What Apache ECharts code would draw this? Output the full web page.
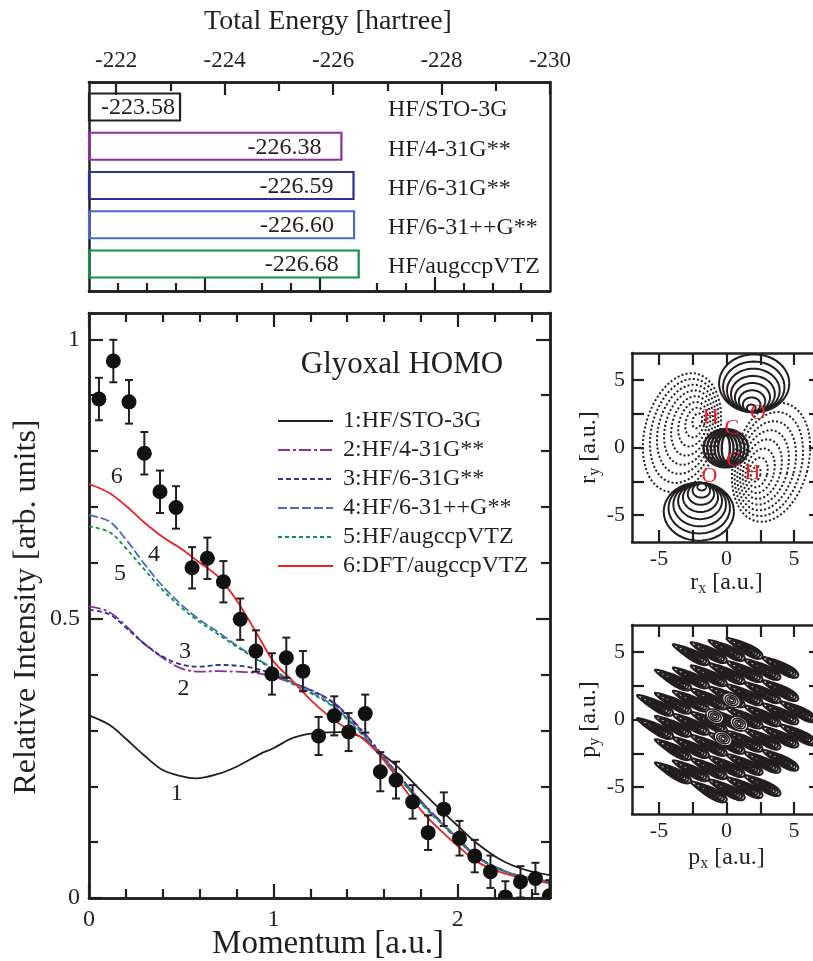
<!DOCTYPE html>
<html><head><meta charset="utf-8">
<script src="https://cdn.jsdelivr.net/npm/echarts@6/dist/echarts.min.js"></script>
<style>html,body{margin:0;padding:0;background:#fff}#c{width:813px;height:961px}</style>
</head><body><div id="c"></div>
<script>
// ================= DATA =================
// Top panel: total energies
const methods = ['HF/STO-3G', 'HF/4-31G**', 'HF/6-31G**', 'HF/6-31++G**', 'HF/augccpVTZ'];
const totalEnergy = [-223.58, -226.38, -226.59, -226.60, -226.68];
const energyTickLabels = [-222, -224, -226, -228, -230];
const energyTopMinor = [-223, -225, -227, -229];
const barAxisMajor = [-224, -226, -228];
const barAxisMinor = [-222.5, -223, -223.5, -225, -225.5, -227, -227.5, -228.5, -229, -229.5];
const barBase = -222;

// Main panel: momentum profiles
const curveNames = ['1:HF/STO-3G', '2:HF/4-31G**', '3:HF/6-31G**', '4:HF/6-31++G**', '5:HF/augccpVTZ', '6:DFT/augccpVTZ'];
const sto3g = [[0,0.327],[0.11,0.310],[0.2,0.285],[0.3,0.255],[0.4,0.229],[0.5,0.218],[0.58,0.214],[0.7,0.222],[0.8,0.235],[0.93,0.258],[1.0,0.268],[1.11,0.287],[1.25,0.296],[1.36,0.297],[1.47,0.289],[1.56,0.265],[1.67,0.236],[1.78,0.199],[1.89,0.163],[2.0,0.129],[2.1,0.099],[2.23,0.069],[2.36,0.051],[2.5,0.041]];
const b431 = [[0,0.522],[0.11,0.512],[0.2,0.487],[0.3,0.455],[0.4,0.430],[0.5,0.411],[0.6,0.405],[0.7,0.406],[0.8,0.405],[0.9,0.403],[1.0,0.396],[1.1,0.385],[1.2,0.373],[1.3,0.356],[1.38,0.335],[1.47,0.304],[1.56,0.269],[1.65,0.232],[1.74,0.196],[1.83,0.163],[1.92,0.133],[2.01,0.103],[2.1,0.076],[2.2,0.056],[2.32,0.041],[2.5,0.029]];
const b631 = [[0,0.516],[0.11,0.508],[0.2,0.484],[0.3,0.455],[0.4,0.432],[0.5,0.418],[0.6,0.414],[0.7,0.417],[0.8,0.416],[0.9,0.411],[1.0,0.400],[1.1,0.386],[1.2,0.372],[1.3,0.355],[1.38,0.333],[1.47,0.302],[1.56,0.267],[1.65,0.231],[1.74,0.195],[1.83,0.162],[1.92,0.132],[2.01,0.102],[2.1,0.075],[2.2,0.056],[2.32,0.041],[2.5,0.029]];
const b631pp = [[0,0.685],[0.11,0.674],[0.2,0.642],[0.3,0.598],[0.4,0.558],[0.5,0.525],[0.6,0.498],[0.7,0.476],[0.8,0.452],[0.9,0.431],[1.0,0.410],[1.1,0.386],[1.2,0.369],[1.3,0.350],[1.38,0.328],[1.47,0.298],[1.56,0.265],[1.65,0.229],[1.74,0.193],[1.83,0.160],[1.92,0.131],[2.01,0.101],[2.1,0.074],[2.2,0.055],[2.32,0.041],[2.5,0.029]];
const hfAug = [[0,0.665],[0.11,0.655],[0.2,0.626],[0.3,0.588],[0.4,0.551],[0.5,0.520],[0.6,0.494],[0.7,0.472],[0.8,0.450],[0.9,0.429],[1.0,0.408],[1.1,0.384],[1.2,0.367],[1.3,0.348],[1.38,0.326],[1.47,0.296],[1.56,0.263],[1.65,0.228],[1.74,0.192],[1.83,0.159],[1.92,0.130],[2.01,0.100],[2.1,0.074],[2.2,0.055],[2.32,0.040],[2.5,0.028]];
const dftAug = [[0,0.741],[0.11,0.725],[0.2,0.702],[0.3,0.672],[0.4,0.646],[0.5,0.625],[0.6,0.600],[0.7,0.575],[0.8,0.533],[0.9,0.479],[1.0,0.424],[1.1,0.390],[1.2,0.355],[1.3,0.326],[1.38,0.307],[1.47,0.289],[1.56,0.262],[1.65,0.224],[1.74,0.182],[1.83,0.146],[1.92,0.117],[2.01,0.090],[2.1,0.066],[2.2,0.050],[2.32,0.038],[2.5,0.026]];
const expP = [0.054,0.132,0.217,0.300,0.385,0.472,0.559,0.642,0.729,0.820,0.905,0.992,1.070,1.160,1.245,1.330,1.408,1.498,1.580,1.665,1.755,1.839,1.924,2.009,2.092,2.177,2.258,2.340,2.421,2.497];
const expI = [0.893,0.961,0.888,0.796,0.727,0.699,0.591,0.608,0.566,0.499,0.442,0.401,0.430,0.406,0.290,0.326,0.297,0.330,0.226,0.211,0.172,0.117,0.159,0.107,0.075,0.047,0.002,0.029,0.035,0.004];
const expErr = [0.038,0.038,0.039,0.038,0.038,0.038,0.037,0.037,0.037,0.037,0.037,0.037,0.036,0.036,0.034,0.035,0.034,0.034,0.035,0.033,0.030,0.031,0.030,0.031,0.029,0.029,0.028,0.028,0.028,0.028];
const curveTagText = ['6', '4', '5', '3', '2', '1'];
const curveTagX = [0.15, 0.353, 0.168, 0.521, 0.512, 0.476];
const curveTagY = [0.754, 0.614, 0.581, 0.440, 0.375, 0.187];
const momTicksMajor = [0, 1, 2];
const momTicksMinor = [0.2, 0.4, 0.6, 0.8, 1.2, 1.4, 1.6, 1.8, 2.2, 2.4];
const intTicksMajor = [0, 0.5, 1];
const intTicksMinor = [0.1, 0.2, 0.3, 0.4, 0.6, 0.7, 0.8, 0.9];

// Right panels: orbital maps
const mapTicks = [-5, -2.5, 0, 2.5, 5];
const mapLabels = [-5, 0, 5];
// [anchorX, anchorY, outerCenterX, outerCenterY, radiusX, radiusY, rotationDeg, contourCount]
const rSolidLobes = [[1.8, 2.65, 2.05, 4.75, 2.6, 2.15, 0, 8], [-1.8, -2.65, -2.05, -4.75, 2.6, 2.15, 0, 8]];
const rDottedLobes = [[-2.0, 2.1, -3.3, 1.1, 2.75, 4.5, -15, 8], [2.0, -2.1, 3.3, -1.1, 2.75, 4.5, -15, 8]];
// [centerX, centerY, innerRx, innerRy, outerRx, outerRy, contourCount]
const rCoreRing = [[-0.05, -0.05, 0.3, 0.95, 1.65, 1.42, 6]];
const atomNames = ['H', 'O', 'C', 'C', 'H', 'O'];
const atomX = [-1.17, 2.32, 0.39, 0.52, 1.93, -1.26];
const atomY = [2.28, 2.54, 1.42, -0.95, -1.94, -2.14];
// momentum-space fringes: [angleDeg, pitchAlong, rowStep, halfLength, halfWidth]
const pFringe = [-28, 3.0, 0.86, 1.5, 0.5];
// envelope of the fringe centres: [semiX, semiY]
const pEnvelope = [5.4, 5.9];
const pCores = [[0.37, 1.43], [-0.87, 0.24], [0.93, -0.3], [-0.25, -1.41]];

// ================= STYLE =================
const FONT = '"Liberation Serif", "DejaVu Serif", serif';
const INK = '#231f20';
const barColors = ['#231f20', '#8e2f9c', '#2e3192', '#4a6bc4', '#11924a'];
const curveColors = ['#231f20', '#8e2f9c', '#2e3192', '#4a6bc4', '#11924a', '#ec2227'];
const curveDash = ['solid', [12, 3, 3, 3], [5, 3], [9, 3], [4, 3], 'solid'];
const curveData = [sto3g, b431, b631, b631pp, hfAug, dftAug];

function axis(gridIndex, position, min, max, extra) {
  return Object.assign({
    type: 'value', gridIndex, position, min, max,
    axisLine: { show: true, onZero: false, lineStyle: { color: INK, width: 2.5 } },
    axisTick: { show: false }, axisLabel: { show: false }, splitLine: { show: false }
  }, extra || {});
}
function ticks(values, length) {
  return { show: true, inside: true, length, customValues: values, lineStyle: { color: INK, width: 2.2 } };
}
function labels(values, size, margin) {
  return { show: true, customValues: values, fontSize: size, fontFamily: FONT, color: INK, margin,
           formatter: v => String(v) };
}
function subName(main, sub) {
  return '{m|' + main + '}{s|' + sub + '}{m| [a.u.]}';
}
const subRich = {
  m: { fontSize: 24, fontFamily: FONT, color: INK },
  s: { fontSize: 16, fontFamily: FONT, color: INK, padding: [12, 0, 0, 0] }
};

function ellipsePts(api, cx, cy, rx, ry, rotDeg, n, taper) {
  n = n || 64;
  const t = rotDeg * Math.PI / 180, c = Math.cos(t), s = Math.sin(t);
  const pts = [];
  for (let k = 0; k <= n; k++) {
    const a = 2 * Math.PI * k / n;
    const ex = rx * Math.cos(a);
    let ey = ry * Math.sin(a);
    if (taper) ey *= (0.68 + 0.32 * Math.cos(a));
    pts.push(api.coord([cx + ex * c - ey * s, cy + ex * s + ey * c]));
  }
  return pts;
}
function lobeRenderer(dotted) {
  return function (params, api) {
    const ax = api.value(0), ay = api.value(1), cx = api.value(2), cy = api.value(3);
    const rx = api.value(4), ry = api.value(5), rot = api.value(6), n = api.value(7);
    const children = [];
    for (let k = 1; k <= n; k++) {
      const s = k / n;
      children.push({
        type: 'polyline',
        shape: { points: ellipsePts(api, ax + s * (cx - ax), ay + s * (cy - ay), s * rx, s * ry, rot) },
        style: dotted ? { fill: null, stroke: INK, lineWidth: 2, lineDash: [2, 2.2] }
                      : { fill: null, stroke: INK, lineWidth: 2 }
      });
    }
    return { type: 'group', children };
  };
}

// momentum-space fringe lattice (staggered rows, from the read fringe parameters)
const pBlobs = [];
(function () {
  const ua = pFringe[0] * Math.PI / 180, ux = Math.cos(ua), uy = Math.sin(ua);
  for (let j = -10; j <= 10; j++) {
    const shift = Math.abs(j % 2) === 1 ? 0.5 : 0;
    for (let i = -4; i <= 4; i++) {
      const k = i + shift;
      const cx = k * pFringe[1] * ux, cy = k * pFringe[1] * uy + j * pFringe[2];
      if ((cx / pEnvelope[0]) ** 2 + (cy / pEnvelope[1]) ** 2 <= 1) pBlobs.push([cx, cy]);
    }
  }
})();

const G0 = { left: 89, top: 82, width: 461, height: 209 };
const G1 = { left: 89, top: 313, width: 461, height: 585 };
const G2 = { left: 632, top: 353, width: 189, height: 189 };
const G3 = { left: 632, top: 625, width: 189, height: 189 };

const option = {
  animation: false,
  backgroundColor: '#fff',
  grid: [G0, G1, G2, G3].map(g => Object.assign({ containLabel: false, outerBoundsMode: 'none' }, g)),
  xAxis: [
    axis(0, 'top', -230, -221.5, { inverse: true, axisTick: ticks(energyTickLabels, 13), axisLabel: labels(energyTickLabels, 23, 10) }),
    axis(0, 'top', -230, -221.5, { inverse: true, axisTick: ticks(energyTopMinor, 9) }),
    axis(0, 'bottom', -230, -222, { inverse: true, axisTick: ticks(barAxisMajor, 14) }),
    axis(0, 'bottom', -230, -222, { inverse: true, axisTick: ticks(barAxisMinor, 8) }),
    axis(1, 'bottom', 0, 2.5, { axisTick: ticks(momTicksMajor, 14), axisLabel: labels(momTicksMajor, 24, 10) }),
    axis(1, 'bottom', 0, 2.5, { axisTick: ticks(momTicksMinor, 9) }),
    axis(1, 'top', 0, 2.5, { axisTick: ticks(momTicksMajor, 14) }),
    axis(1, 'top', 0, 2.5, { axisTick: ticks(momTicksMinor, 9) }),
    axis(2, 'bottom', -7, 7, { axisTick: ticks(mapTicks, 12), axisLabel: labels(mapLabels, 22, 6),
      name: subName('r', 'x'), nameLocation: 'middle', nameGap: 26, nameTextStyle: { rich: subRich } }),
    axis(2, 'top', -7, 7, { axisTick: ticks(mapTicks, 12) }),
    axis(3, 'bottom', -7, 7, { axisTick: ticks(mapTicks, 12), axisLabel: labels(mapLabels, 22, 6),
      name: subName('p', 'x'), nameLocation: 'middle', nameGap: 30, nameTextStyle: { rich: subRich } }),
    axis(3, 'top', -7, 7, { axisTick: ticks(mapTicks, 12) })
  ],
  yAxis: [
    axis(0, 'left', -0.637, 4.688, { inverse: true }),
    axis(0, 'right', -0.637, 4.688, { inverse: true }),
    axis(1, 'left', 0, 1.047, { axisTick: ticks(intTicksMajor, 14), axisLabel: labels(intTicksMajor, 24, 9) }),
    axis(1, 'left', 0, 1.047, { axisTick: ticks(intTicksMinor, 9) }),
    axis(1, 'right', 0, 1.047, { axisTick: ticks(intTicksMajor, 14) }),
    axis(1, 'right', 0, 1.047, { axisTick: ticks(intTicksMinor, 9) }),
    axis(2, 'left', -7, 7, { axisTick: ticks(mapTicks, 12), axisLabel: labels(mapLabels, 22, 7),
      name: subName('r', 'y'), nameLocation: 'middle', nameGap: 25, nameTextStyle: { rich: subRich } }),
    axis(2, 'right', -7, 7, { axisTick: ticks(mapTicks, 12) }),
    axis(3, 'left', -7, 7, { axisTick: ticks(mapTicks, 12), axisLabel: labels(mapLabels, 22, 7),
      name: subName('p', 'y'), nameLocation: 'middle', nameGap: 25, nameTextStyle: { rich: subRich } }),
    axis(3, 'right', -7, 7, { axisTick: ticks(mapTicks, 12) })
  ],
  legend: {
    orient: 'vertical', left: 272, top: 404, padding: 5, itemWidth: 55, itemHeight: 2, itemGap: 5,
    selectedMode: false, data: curveNames,
    itemStyle: { opacity: 0 },
    textStyle: { fontFamily: FONT, fontSize: 24, color: INK, padding: [0, 0, 0, 5] }
  },
  graphic: [
    { type: 'text', x: 328, y: 22, style: { text: 'Total Energy [hartree]', fontSize: 28, fontFamily: FONT, fill: INK, align: 'center', verticalAlign: 'middle' } },
    { type: 'text', x: 328, y: 944, style: { text: 'Momentum [a.u.]', fontSize: 33, fontFamily: FONT, fill: INK, align: 'center', verticalAlign: 'middle' } },
    { type: 'text', x: 27, y: 607, rotation: Math.PI / 2, style: { text: 'Relative Intensity [arb. units]', fontSize: 32, fontFamily: FONT, fill: INK, align: 'center', verticalAlign: 'middle' } },
    { type: 'text', x: 402, y: 365, style: { text: 'Glyoxal HOMO', fontSize: 31, fontFamily: FONT, fill: INK, align: 'center', verticalAlign: 'middle' } }
  ],
  series: [
    // energy bars
    {
      type: 'custom', xAxisIndex: 2, yAxisIndex: 0, clip: false,
      data: totalEnergy.map((e, i) => [e, i]),
      renderItem: function (params, api) {
        const e = api.value(0), idx = api.value(1);
        const a = api.coord([barBase, idx]), b = api.coord([e, idx]);
        const h = 27;
        return { type: 'group', children: [
          { type: 'rect', shape: { x: a[0], y: a[1] - h / 2, width: b[0] - a[0], height: h },
            style: { fill: null, stroke: barColors[idx], lineWidth: 2.2 } },
          { type: 'text', x: b[0] - (idx === 0 ? 5 : 20), y: a[1] + 1,
            style: { text: e.toFixed(2), align: 'right', verticalAlign: 'middle', fontSize: 24, fontFamily: FONT, fill: INK } },
          { type: 'text', x: 388, y: a[1] + 3,
            style: { text: methods[idx], align: 'left', verticalAlign: 'middle', fontSize: 24, fontFamily: FONT, fill: INK } }
        ] };
      }
    },
    // theory curves
    ...curveData.map((d, i) => ({
      type: 'line', name: curveNames[i], xAxisIndex: 4, yAxisIndex: 2, data: d,
      symbol: 'none', showSymbol: false, smooth: 0.35, z: 3 + (i === 5 ? 1 : 0),
      itemStyle: { color: curveColors[i] },
      lineStyle: { color: curveColors[i], width: 1.8, type: curveDash[i] }
    })),
    // experimental points with error bars
    {
      type: 'custom', xAxisIndex: 4, yAxisIndex: 2, clip: true, z: 6,
      data: expP.map((p, i) => [p, expI[i], expErr[i]]),
      renderItem: function (params, api) {
        const x = api.value(0), y = api.value(1), e = api.value(2);
        const t = api.coord([x, y + e]), b = api.coord([x, y - e]), c = api.coord([x, y]);
        const cap = 4, st = { stroke: INK, lineWidth: 2 };
        return { type: 'group', children: [
          { type: 'line', shape: { x1: t[0], y1: t[1], x2: b[0], y2: b[1] }, style: st },
          { type: 'line', shape: { x1: t[0] - cap, y1: t[1], x2: t[0] + cap, y2: t[1] }, style: st },
          { type: 'line', shape: { x1: b[0] - cap, y1: b[1], x2: b[0] + cap, y2: b[1] }, style: st },
          { type: 'circle', shape: { cx: c[0], cy: c[1], r: 7.5 }, style: { fill: '#111' } }
        ] };
      }
    },
    // curve tags
    {
      type: 'custom', xAxisIndex: 4, yAxisIndex: 2, z: 8,
      data: curveTagX.map((x, i) => [x, curveTagY[i]]),
      renderItem: function (params, api) {
        const p = api.coord([api.value(0), api.value(1)]);
        return { type: 'text', x: p[0], y: p[1], style: { text: curveTagText[params.dataIndex], align: 'center', verticalAlign: 'middle', fontSize: 24, fontFamily: FONT, fill: INK } };
      }
    },
    // r-space orbital map
    { type: 'custom', xAxisIndex: 8, yAxisIndex: 6, clip: true, data: rDottedLobes, renderItem: lobeRenderer(true) },
    { type: 'custom', xAxisIndex: 8, yAxisIndex: 6, clip: true, data: rSolidLobes, renderItem: lobeRenderer(false) },
    {
      type: 'custom', xAxisIndex: 8, yAxisIndex: 6, clip: true, data: rCoreRing,
      renderItem: function (params, api) {
        const cx = api.value(0), cy = api.value(1), r0x = api.value(2), r0y = api.value(3), r1x = api.value(4), r1y = api.value(5), n = api.value(6);
        const children = [];
        for (let k = 0; k < n; k++) {
          const s = k / (n - 1);
          children.push({ type: 'polyline', shape: { points: ellipsePts(api, cx, cy, r0x + s * (r1x - r0x), r0y + s * (r1y - r0y), 0) },
            style: { fill: null, stroke: INK, lineWidth: 2.4 } });
        }
        return { type: 'group', children };
      }
    },
    {
      type: 'custom', xAxisIndex: 8, yAxisIndex: 6, clip: true, z: 9,
      data: atomX.map((x, i) => [x, atomY[i]]),
      renderItem: function (params, api) {
        const p = api.coord([api.value(0), api.value(1)]);
        return { type: 'text', x: p[0], y: p[1], style: { text: atomNames[params.dataIndex], align: 'center', verticalAlign: 'middle', fontSize: 22, fontFamily: FONT, fill: '#e8202a' } };
      }
    },
    // p-space map
    {
      type: 'custom', xAxisIndex: 10, yAxisIndex: 8, clip: true, data: pBlobs,
      renderItem: function (params, api) {
        const cx = api.value(0), cy = api.value(1);
        const ua = pFringe[0] * Math.PI / 180;
        const children = [];
        [1, 0.8, 0.6, 0.4, 0.22].forEach(s => {
          const sh = (1 - s) * 0.3 * pFringe[3];
          children.push({ type: 'polyline',
            shape: { points: ellipsePts(api, cx + sh * Math.cos(ua), cy + sh * Math.sin(ua), s * pFringe[3], s * pFringe[4], pFringe[0], 48, true) },
            style: { fill: null, stroke: INK, lineWidth: 2.1 } });
        });
        return { type: 'group', children };
      }
    },
    {
      type: 'custom', xAxisIndex: 10, yAxisIndex: 8, clip: true, data: pCores, z: 3,
      renderItem: function (params, api) {
        const cx = api.value(0), cy = api.value(1);
        const children = [];
        [0.7, 0.5, 0.32, 0.16].forEach(s => {
          children.push({ type: 'polyline', shape: { points: ellipsePts(api, cx, cy, s, s * 0.7, pFringe[0], 40) },
            style: { fill: '#fff', stroke: INK, lineWidth: 1.6 } });
        });
        return { type: 'group', children };
      }
    }
  ]
};
const chart = echarts.init(document.getElementById('c'), null, { renderer: 'canvas' });
chart.setOption(option);
</script>
</body></html>
